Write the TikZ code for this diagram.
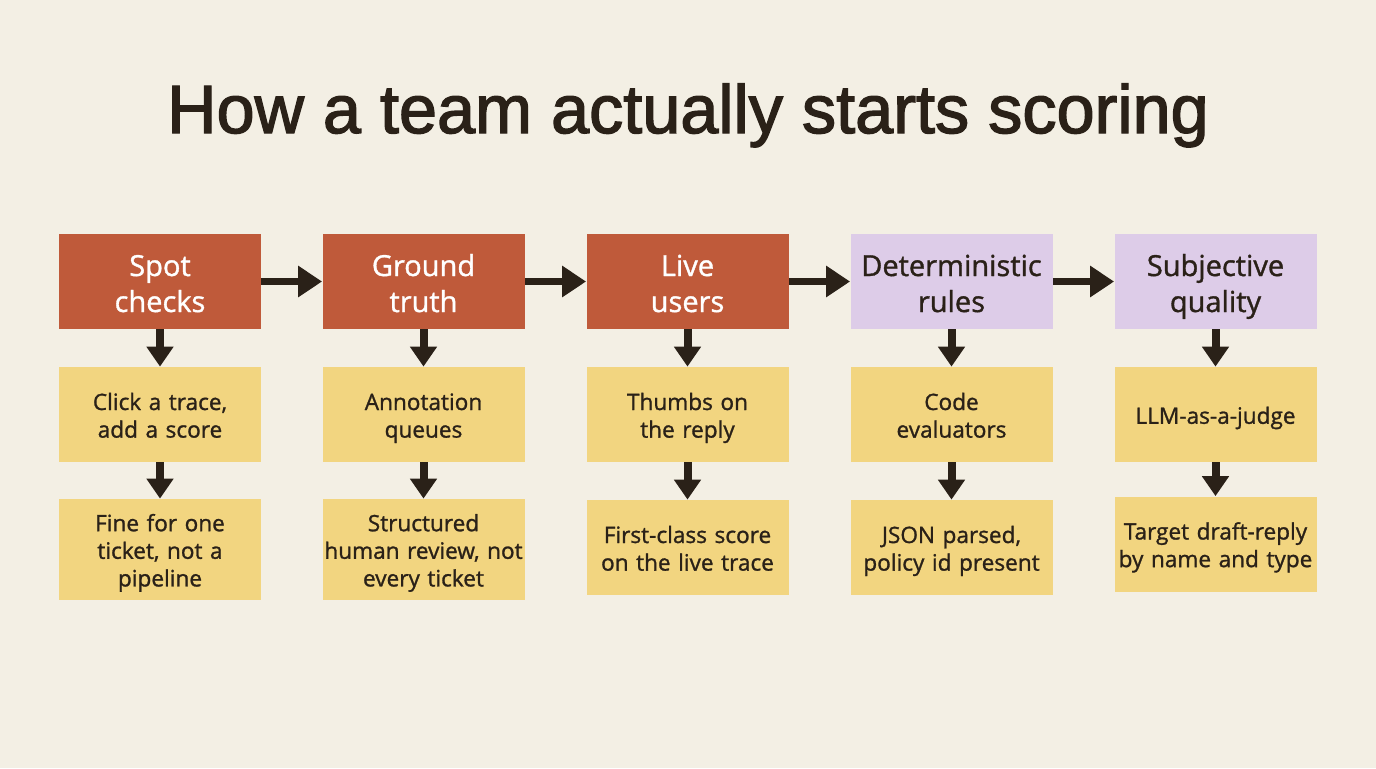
\documentclass[tikz,border=0pt]{standalone}
\usepackage{fontspec}
\setmainfont{Open Sans}[FakeBold=1.2]
\newfontfamily\titlefont{Liberation Sans}[FakeBold=2]
\usetikzlibrary{arrows.meta}
\definecolor{bg}{HTML}{F3EFE4}
\definecolor{redc}{HTML}{BF5A3A}
\definecolor{purc}{HTML}{DDCCE8}
\definecolor{ylwc}{HTML}{F2D580}
\definecolor{ink}{HTML}{2A2118}
\newcommand\headtop{\rule{0pt}{16.5pt}}
\newcommand\headbot{\rule[-4pt]{0pt}{4pt}}
\newcommand\subtop{\rule{0pt}{12.5pt}}
\newcommand\subbot{\rule[-3.2pt]{0pt}{3.2pt}}
\begin{document}
\begin{tikzpicture}[x=0.5pt,y=-0.5pt,
  box/.style={minimum width=101pt, text width=101pt, inner sep=0pt, align=center, text=ink},
  headbox/.style={box, minimum height=47.5pt, font=\fontsize{14.5}{18}\selectfont,
    execute at begin node=\headtop, execute at end node=\headbot},
  redbox/.style={headbox, fill=redc, text=white},
  purbox/.style={headbox, fill=purc},
  subbox/.style={box, fill=ylwc, font=\fontsize{11.3}{13.8}\selectfont,
    execute at begin node=\subtop, execute at end node=\subbot},
  harrow/.style={draw=ink, line width=3.5pt, -{Triangle[length=12pt,width=15pt]}},
  varrow/.style={draw=ink, line width=4pt, -{Triangle[length=10pt,width=13pt]}}
]
\fill[bg] (0,0) rectangle (1376,768);
\useasboundingbox (0,0) rectangle (1376,768);

\node[anchor=base, font=\titlefont\fontsize{34.2}{40}\selectfont, text=ink] (title) at (688,133) {How a team actually starts scoring};

% headers
\node[redbox] (h1) at (160,281.5) {Spot\\checks};
\node[redbox] (h2) at (423.5,281.5) {Ground\\truth};
\node[redbox] (h3) at (687.5,281.5) {Live\\users};
\node[purbox] (h4) at (951.5,281.5) {Deterministic\\rules};
\node[purbox] (h5) at (1215.5,281.5) {Subjective\\quality};

% row 2
\node[subbox, minimum height=47.5pt] (a1) at (160,414.5) {Click a trace,\\add a score};
\node[subbox, minimum height=47.5pt] (a2) at (423.5,414.5) {Annotation\\queues};
\node[subbox, minimum height=47.5pt] (a3) at (687.5,414.5) {Thumbs on\\the reply};
\node[subbox, minimum height=47.5pt] (a4) at (951.5,414.5) {Code\\evaluators};
\node[subbox, minimum height=47.5pt] (a5) at (1215.5,414.5) {LLM-as-a-judge};

% row 3
\node[subbox, minimum height=50.5pt] (b1) at (160,549.5) {Fine for one\\ticket, not a\\pipeline};
\node[subbox, minimum height=50.5pt] (b2) at (423.5,549.5) {Structured\\human review, not\\every ticket};
\node[subbox, minimum height=47.5pt] (b3) at (687.5,547.5) {First-class score\\on the live trace};
\node[subbox, minimum height=47.5pt] (b4) at (951.5,547.5) {JSON parsed,\\policy id present};
\node[subbox, minimum height=47.5pt] (b5) at (1215.5,544) {Target draft-reply\\by name and type};

% horizontal arrows
\draw[harrow] (h1.east) -- (h2.west);
\draw[harrow] (h2.east) -- (h3.west);
\draw[harrow] (h3.east) -- (h4.west);
\draw[harrow] (h4.east) -- (h5.west);

% vertical arrows
\foreach \i in {1,...,5}{
  \draw[varrow] (h\i.south) -- (a\i.north);
  \draw[varrow] (a\i.south) -- (b\i.north);
}
\end{tikzpicture}
\end{document}
